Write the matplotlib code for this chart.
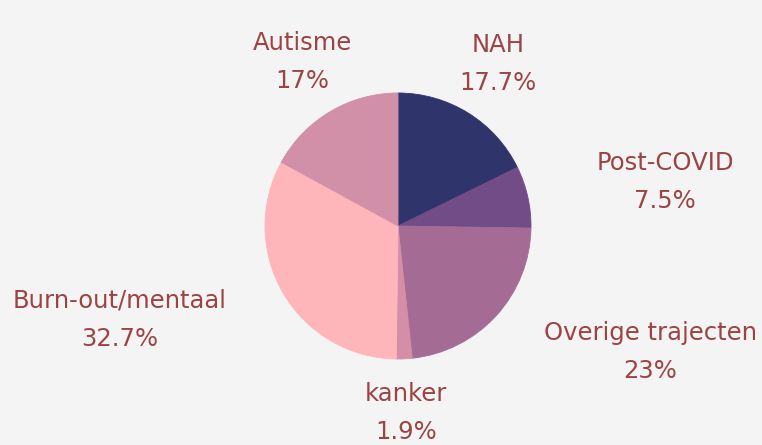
import matplotlib.pyplot as plt

labels = ["NAH", "Post-COVID", "Overige trajecten", "kanker", "Burn-out/mentaal", "Autisme"]
values = [17.7, 7.5, 23, 1.9, 32.7, 17]
pct_text = ["17.7%", "7.5%", "23%", "1.9%", "32.7%", "17%"]
colors = ["#2f346b", "#714c86", "#a46c95", "#d48fa6", "#ffb6bb", "#d18fa8"]

# label centres in pixels of the 762x445 picture (x, y of the midpoint between the two lines)
label_px = [(498, 64), (665, 182), (650, 352), (406, 413), (120, 320), (302, 62)]

W, H = 762, 445
cx, cy, r = 398, 226, 133
bg = "#f4f4f4"
txt_color = "#9c4343"

plt.rcParams["font.family"] = ["DejaVu Sans"]

fig = plt.figure(figsize=(W / 100, H / 100), dpi=100, facecolor=bg)
ax = fig.add_axes([(cx - r) / W, (H - cy - r) / H, 2 * r / W, 2 * r / H])
ax.set_facecolor(bg)

wedges, _ = ax.pie(values, colors=colors, startangle=90, counterclock=False, radius=1)
for w, c in zip(wedges, colors):
    w.set_edgecolor(c)
    w.set_linewidth(0.6)
ax.set_xlim(-1, 1)
ax.set_ylim(-1, 1)
ax.set_aspect("equal")
ax.axis("off")

for lab, pct, (px, py) in zip(labels, pct_text, label_px):
    x = (px - cx) / r
    y = (cy - py) / r
    ax.text(x, y, lab + "\n" + pct, ha="center", va="center", color=txt_color,
            fontsize=17.5, linespacing=1.75, clip_on=False)

fig.savefig("out.png", dpi=100, facecolor=bg)
